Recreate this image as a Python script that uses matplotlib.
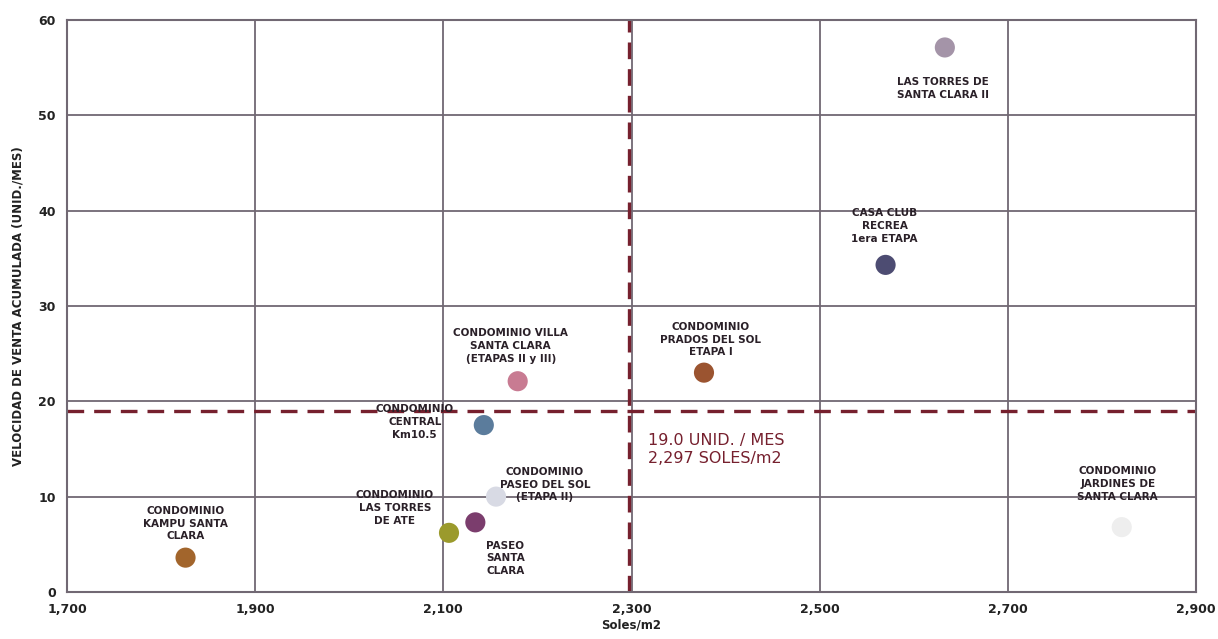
import matplotlib
matplotlib.use("Agg")
import matplotlib.pyplot as plt

names = [
    "CONDOMINIO\nKAMPU SANTA\nCLARA",
    "CONDOMINIO\nLAS TORRES\nDE ATE",
    "PASEO\nSANTA\nCLARA",
    "CONDOMINIO\nPASEO DEL SOL\n(ETAPA II)",
    "CONDOMINIO\nCENTRAL\nKm10.5",
    "CONDOMINIO VILLA\nSANTA CLARA\n(ETAPAS II y III)",
    "CONDOMINIO\nPRADOS DEL SOL\nETAPA I",
    "CASA CLUB\nRECREA\n1era ETAPA",
    "LAS TORRES DE\nSANTA CLARA II",
    "CONDOMINIO\nJARDINES DE\nSANTA CLARA",
]
precio = [1826, 2106, 2134, 2156, 2143, 2179, 2377, 2570, 2633, 2821]
velocidad = [3.6, 6.2, 7.3, 10.0, 17.5, 22.1, 23.0, 34.3, 57.1, 6.8]
colores = ["#a2652c", "#9b9a2c", "#7b3d6d", "#d8dae4", "#5b7c9c", "#c87b92",
           "#9b5430", "#4d4c72", "#a494a8", "#eeeeee"]
label_offsets = [(0, 34), (-54, 25), (30, -36), (49, 12), (-69, 3), (-7, 35),
                 (7, 33), (-1, 39), (-2, -41), (-4, 43)]

prom_vel = 19.0
prom_precio = 2297
x_ticks = [1700, 1900, 2100, 2300, 2500, 2700, 2900]
y_ticks = [0, 10, 20, 30, 40, 50, 60]

grid_c = "#716873"
red = "#76202e"

fig = plt.figure(figsize=(12.18, 6.39), dpi=100)
ax = fig.add_axes([0.055, 0.0736, 0.927, 0.8954])
ax.set_xlim(1700, 2900)
ax.set_ylim(0, 60)
ax.set_xticks(x_ticks)
ax.set_yticks(y_ticks)
ax.set_xticklabels([f"{v:,}" for v in x_ticks], fontsize=9, fontweight="bold", color="#222222")
ax.set_yticklabels([str(v) for v in y_ticks], fontsize=9, fontweight="bold", color="#222222")
ax.tick_params(length=0, pad=8)
ax.grid(True, color=grid_c, linewidth=1.3)
ax.set_axisbelow(True)
for s in ax.spines.values():
    s.set_color(grid_c)
    s.set_linewidth(1.5)

ax.axhline(prom_vel, color=red, linestyle=(0, (5, 3)), linewidth=2.4, zorder=2)
ax.axvline(prom_precio, color=red, linestyle=(0, (5, 3)), linewidth=2.4, zorder=2)

ax.scatter(precio, velocidad, s=210, c=colores, edgecolors="none", zorder=3)
for n, x, y, (dx, dy) in zip(names, precio, velocidad, label_offsets):
    ax.annotate(n, (x, y), xytext=(dx, dy), textcoords="offset pixels",
                ha="center", va="center", fontsize=7.5, fontweight="bold",
                color="#2a2028", linespacing=1.35, zorder=4)

ax.text(2318, 16.7, f"{prom_vel:.1f} UNID. / MES\n{prom_precio:,} SOLES/m2",
        color=red, fontsize=11.5, fontweight="medium", ha="left", va="top",
        linespacing=1.3, zorder=4)

ax.set_xlabel("Soles/m2", fontsize=8.5, fontweight="bold", labelpad=2, color="#222222")
ax.set_ylabel("VELOCIDAD DE VENTA ACUMULADA (UNID./MES)", fontsize=8.5,
              fontweight="bold", labelpad=10, color="#222222")

fig.savefig("out.png", dpi=100)
